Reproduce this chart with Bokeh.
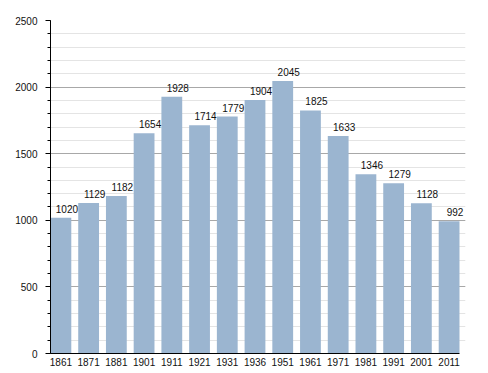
from bokeh.plotting import figure
from bokeh.models import ColumnDataSource, SingleIntervalTicker, FixedTicker, Range1d, LabelSet
from bokeh.core.properties import value
from bokeh.embed import file_html
from bokeh.resources import INLINE

years = ["1861", "1871", "1881", "1901", "1911", "1921", "1931", "1936",
         "1951", "1961", "1971", "1981", "1991", "2001", "2011"]
population = [1020, 1129, 1182, 1654, 1928, 1714, 1779, 1904,
              2045, 1825, 1633, 1346, 1279, 1128, 992]

xs = list(range(len(years)))
src = ColumnDataSource(dict(x=xs, pop=population, lab=[str(v) for v in population]))

FONT = "Liberation Sans"
W = 0.75
PX_PER_UNIT = 409 / (len(years) - 1 + W)
EXTRA_PX = 6
x_lo = -W / 2
x_hi = len(years) - 1 + W / 2

p = figure(output_backend="svg", toolbar_location=None,
           frame_width=409 + EXTRA_PX, frame_height=333,
           min_border_left=50, min_border_top=20, min_border_right=14, min_border_bottom=0,
           x_range=Range1d(x_lo, x_hi + EXTRA_PX / PX_PER_UNIT),
           y_range=Range1d(0, 2500))
p.outline_line_color = None

p.vbar(x="x", top="pop", width=W, source=src, fill_color="#9bb5d0", line_color=None)
labels = LabelSet(x="x", y="pop", text="lab", source=src, text_align="center",
                  text_baseline="alphabetic", x_offset=6, y_offset=5,
                  text_font=value(FONT), text_font_size=value("10px"), text_color="#111111")
p.add_layout(labels)

p.yaxis.ticker = SingleIntervalTicker(interval=500, num_minor_ticks=5)
p.yaxis.axis_line_color = "black"
p.yaxis.major_tick_line_color = "black"
p.yaxis.minor_tick_line_color = "black"
p.yaxis.major_tick_out = 5
p.yaxis.major_tick_in = 0
p.yaxis.minor_tick_out = 3
p.yaxis.minor_tick_in = 0
p.yaxis.major_label_standoff = 8
p.yaxis.major_label_text_font = FONT
p.yaxis.major_label_text_font_size = "10px"
p.yaxis.major_label_text_color = "#111111"

p.xaxis.ticker = FixedTicker(ticks=xs)
p.xaxis.bounds = (x_lo, x_hi)
p.xaxis.major_label_overrides = {i: y for i, y in enumerate(years)}
p.xaxis.axis_line_color = "black"
p.xaxis.major_tick_line_color = None
p.xaxis.minor_tick_line_color = None
p.xaxis.major_tick_out = 0
p.xaxis.major_tick_in = 0
p.xaxis.major_label_standoff = 4
p.xaxis.major_label_text_font = FONT
p.xaxis.major_label_text_font_size = "10px"
p.xaxis.major_label_text_color = "#111111"

p.xgrid.grid_line_color = None
p.ygrid.grid_line_color = "#a8a8a8"
p.ygrid.minor_grid_line_color = "#e4e4e4"

open("out.html", "w").write(file_html(p, INLINE))
